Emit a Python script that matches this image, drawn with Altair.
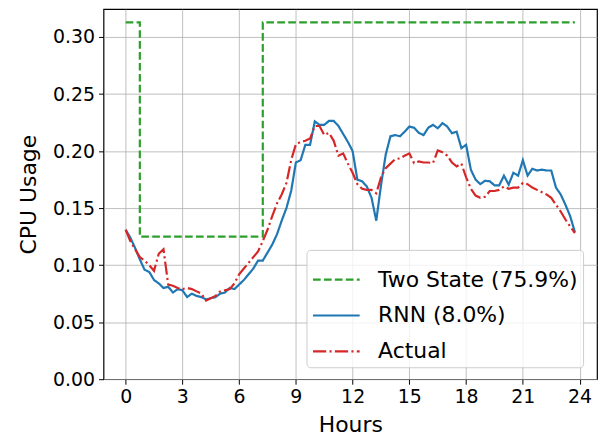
import altair as alt
import pandas as pd

hours = [i * 0.25 for i in range(96)]

rnn = [0.131, 0.124, 0.115, 0.105, 0.096, 0.094, 0.087, 0.084,
       0.080, 0.081, 0.076, 0.079, 0.078, 0.072, 0.075, 0.073,
       0.072, 0.070, 0.071, 0.072, 0.075, 0.076, 0.080, 0.079,
       0.083, 0.087, 0.092, 0.097, 0.104, 0.104, 0.111, 0.118,
       0.127, 0.139, 0.150, 0.165, 0.190, 0.192, 0.2055, 0.2055,
       0.226, 0.223, 0.223, 0.2265, 0.2265, 0.222, 0.215, 0.208,
       0.200, 0.175, 0.1735, 0.169, 0.159, 0.139, 0.170, 0.197,
       0.213, 0.214, 0.213, 0.217, 0.2215, 0.2205, 0.216, 0.214,
       0.2205, 0.223, 0.220, 0.2245, 0.2215, 0.2157, 0.217, 0.2026,
       0.2055, 0.1837, 0.175, 0.171, 0.174, 0.1735, 0.170, 0.170,
       0.1785, 0.1706, 0.181, 0.1785, 0.192, 0.1785, 0.1845, 0.183,
       0.1837, 0.183, 0.183, 0.168, 0.162, 0.153, 0.143, 0.129]

actual = [0.131, 0.121, 0.114, 0.107, 0.104, 0.100, 0.095, 0.110,
          0.114, 0.083, 0.082, 0.080, 0.079, 0.080, 0.079, 0.077,
          0.075, 0.069, 0.071, 0.073, 0.077, 0.078, 0.079, 0.084,
          0.092, 0.097, 0.102, 0.107, 0.112, 0.121, 0.131, 0.143,
          0.154, 0.162, 0.172, 0.192, 0.206, 0.208, 0.209, 0.211,
          0.222, 0.222, 0.214, 0.216, 0.209, 0.196, 0.198, 0.189,
          0.181, 0.171, 0.167, 0.166, 0.166, 0.163, 0.177, 0.185,
          0.189, 0.193, 0.1935, 0.196, 0.198, 0.1895, 0.191, 0.190,
          0.190, 0.1895, 0.2005, 0.199, 0.196, 0.190, 0.1866, 0.189,
          0.177, 0.167, 0.161, 0.159, 0.160, 0.165, 0.165, 0.166,
          0.169, 0.167, 0.168, 0.168, 0.172, 0.171, 0.168, 0.166,
          0.164, 0.162, 0.159, 0.153, 0.147, 0.140, 0.134, 0.128]

two_state_hours = [0.0, 0.75, 7.25, 23.75]
two_state_vals = [0.3128, 0.125, 0.3128, 0.3128]

series_names = ["Two State (75.9%)", "RNN (8.0%)", "Actual"]
series_colors = ["#2ca02c", "#1f77b4", "#d62728"]
series_dashes = [[7.7, 3.3], [1, 0], [13.3, 3.3, 2.1, 3.3]]

x_ticks = [0, 3, 6, 9, 12, 15, 18, 21, 24]
y_ticks = [0.0, 0.05, 0.10, 0.15, 0.20, 0.25, 0.30]

df_two = pd.DataFrame({"Hours": two_state_hours, "CPU": two_state_vals,
                       "Series": series_names[0]})
df_rnn = pd.DataFrame({"Hours": hours, "CPU": rnn, "Series": series_names[1]})
df_act = pd.DataFrame({"Hours": hours, "CPU": actual, "Series": series_names[2]})

xenc = alt.X("Hours:Q", title="Hours",
             scale=alt.Scale(domain=[-1.17, 24.92], nice=False, zero=False),
             axis=alt.Axis(values=x_ticks, labelPadding=3, titlePadding=9))
yenc = alt.Y("CPU:Q", title="CPU Usage",
             scale=alt.Scale(domain=[0, 0.3245], nice=False),
             axis=alt.Axis(values=y_ticks, format=".2f", labelPadding=4, titlePadding=12))
cenc = alt.Color("Series:N", title=None,
                 scale=alt.Scale(domain=series_names, range=series_colors))
denc = alt.StrokeDash("Series:N", title=None,
                      scale=alt.Scale(domain=series_names, range=series_dashes))

def layer(df, interp):
    return alt.Chart(df).mark_line(strokeWidth=2.2, interpolate=interp).encode(
        x=xenc, y=yenc, color=cenc, strokeDash=denc)

chart = alt.layer(
    layer(df_two, "step-after"),
    layer(df_rnn, "linear"),
    layer(df_act, "linear"),
).properties(
    width=496, height=372,
    autosize=alt.AutoSizeParams(type="none"),
    padding={"left": 96, "top": 0, "right": 2, "bottom": 56},
).configure_view(
    stroke="black", strokeWidth=1.2
).configure_axis(
    grid=True, gridColor="#b0b0b0", gridWidth=0.8, domain=False,
    tickColor="black", tickSize=5, tickWidth=1,
    labelFont="DejaVu Sans", titleFont="DejaVu Sans",
    labelFontSize=19, titleFontSize=22, titleFontWeight="normal",
    labelColor="black", titleColor="black",
).configure_legend(
    orient="none", legendX=204, legendY=242,
    symbolType="stroke", symbolSize=2200, symbolStrokeWidth=2.2,
    labelFont="DejaVu Sans", labelFontSize=22, labelColor="black",
    labelLimit=400, labelOffset=17, padding=5, rowPadding=-12,
    strokeColor="#cccccc", fillColor="rgba(255,255,255,0.8)", cornerRadius=4,
)

chart.save("out.html", embed_options={"renderer": "svg", "actions": False})
